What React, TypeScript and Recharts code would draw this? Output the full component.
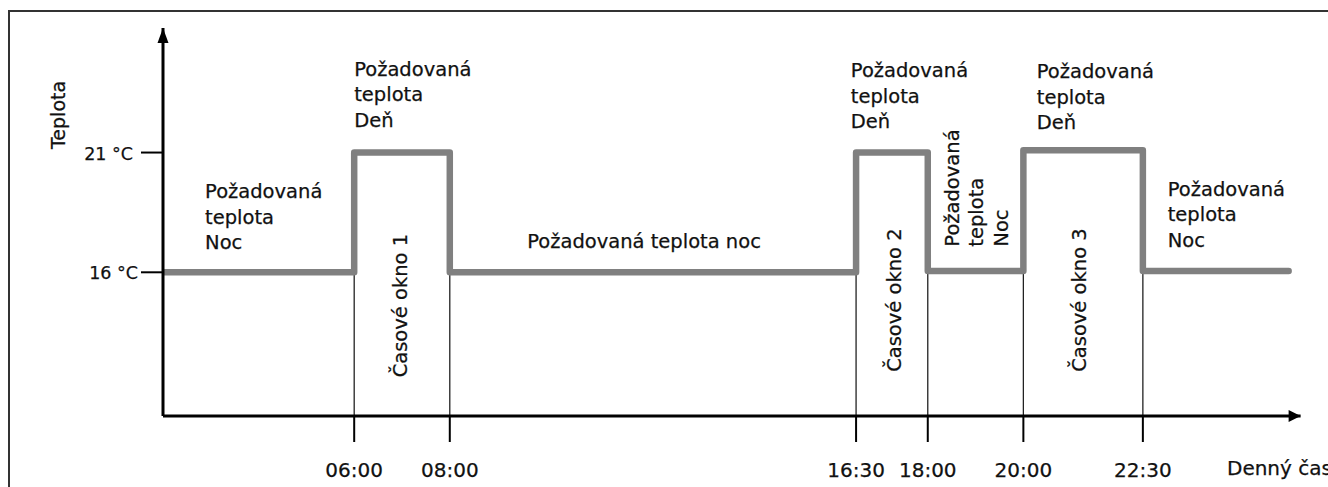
import React from 'react';
import { LineChart, Line, XAxis, YAxis, ReferenceLine, ReferenceDot } from 'recharts';

// switching program: time of day (h) -> set temperature (°C)
const times = [2, 6, 8, 16.5, 18, 20, 22.5, 25.55];
const temps = [16, 21, 16, 21, 16.05, 21.1, 16.05, 16.05];

const switchTimes = [6, 8, 16.5, 18, 20, 22.5];
const timeLabels = ['06:00', '08:00', '16:30', '18:00', '20:00', '22:30'];

const tempTicks = [16, 21];
const tempLabels = ['16 °C', '21 °C'];

type Note = {
  lines: string[];
  t: number;
  v: number;
  rotated?: boolean;
  anchor?: 'start' | 'middle';
  size?: number;
};

const notes: Note[] = [
  { lines: ['Požadovaná', 'teplota', 'Noc'], t: 2.88, v: 19.1 },
  { lines: ['Požadovaná', 'teplota', 'Deň'], t: 6.0, v: 24.2 },
  { lines: ['Požadovaná teplota noc'], t: 9.62, v: 17.0 },
  { lines: ['Požadovaná', 'teplota', 'Deň'], t: 16.39, v: 24.15 },
  { lines: ['Požadovaná', 'teplota', 'Deň'], t: 20.28, v: 24.11 },
  { lines: ['Požadovaná', 'teplota', 'Noc'], t: 23.02, v: 19.19 },
  { lines: ['Požadovaná', 'teplota', 'Noc'], t: 18.65, v: 17.07, rotated: true },
  { lines: ['Časové okno 1'], t: 7.1, v: 14.61, rotated: true, anchor: 'middle' },
  { lines: ['Časové okno 2'], t: 17.44, v: 14.84, rotated: true, anchor: 'middle' },
  { lines: ['Časové okno 3'], t: 21.31, v: 14.84, rotated: true, anchor: 'middle' },
  { lines: ['Teplota'], t: -0.04, v: 22.57, rotated: true, anchor: 'middle', size: 19 },
  { lines: ['Denný čas'], t: 24.26, v: 7.54, size: 20 },
];

const data = times.map((t, i) => ({ t, v: temps[i] }));

const FONT = "'DejaVu Sans', sans-serif";
const LINE_COLOR = '#808080';

const NoteText = ({ cx, cy, note }: any) => {
  const lh = note.rotated ? 24.5 : 25.5;
  return (
    <text
      x={cx}
      y={cy}
      fontFamily={FONT}
      fontSize={note.size || 19.5}
      fill="#111"
      stroke="#111"
      strokeWidth={0.25}
      textAnchor={note.anchor || 'start'}
      transform={note.rotated ? `rotate(-90 ${cx} ${cy})` : undefined}
    >
      {note.lines.map((l: string, i: number) => (
        <tspan key={i} x={cx} dy={i === 0 ? 0 : lh}>
          {l}
        </tspan>
      ))}
    </text>
  );
};

const XTick = ({ x, y, payload }: any) => {
  const idx = switchTimes.indexOf(payload.value);
  return (
    <text
      x={x}
      y={y}
      dy="0.71em"
      textAnchor="middle"
      fontFamily={FONT}
      fontSize={20}
      fill="#111"
      stroke="#111"
      strokeWidth={0.25}
    >
      {timeLabels[idx]}
    </text>
  );
};

const yLabelShift: Record<number, number> = { 16: 5, 21: 0 };

const YTick = ({ x, y, payload }: any) => {
  const idx = tempTicks.indexOf(payload.value);
  return (
    <text
      x={x + (yLabelShift[payload.value] || 0)}
      y={y}
      dy="0.4em"
      textAnchor="end"
      fontFamily={FONT}
      fontSize={17.5}
      fill="#111"
      stroke="#111"
      strokeWidth={0.25}
    >
      {tempLabels[idx]}
    </text>
  );
};

const UpArrow = ({ cx, cy }: any) => (
  <polygon points={`${cx},${cy} ${cx - 5.5},${cy + 15} ${cx + 5.5},${cy + 15}`} fill="#000" />
);

const RightArrow = ({ cx, cy }: any) => (
  <polygon points={`${cx},${cy} ${cx - 12},${cy - 6} ${cx - 12},${cy + 6}`} fill="#000" />
);

export default function App() {
  return (
    <div style={{ position: 'absolute', left: 0, top: 0, width: 1328, height: 487, overflow: 'hidden', background: '#fff' }}>
      <div
        style={{
          position: 'absolute',
          left: 8,
          top: 10,
          width: 1400,
          height: 600,
          borderLeft: '2px solid #333',
          borderTop: '2px solid #333',
        }}
      />
      <div style={{ position: 'absolute', left: 0, top: 0 }}>
        <LineChart width={1328} height={487} data={data} margin={{ top: 28, right: 27.4, bottom: 70, left: 162 }}>
          <XAxis
            dataKey="t"
            type="number"
            domain={[2, 25.8]}
            ticks={switchTimes}
            height={1}
            axisLine={{ stroke: '#000', strokeWidth: 3 }}
            tickLine={{ stroke: '#000', strokeWidth: 2 }}
            tickSize={26}
            tickMargin={21}
            tick={<XTick />}
            interval={0}
            allowDataOverflow
          />
          <YAxis
            type="number"
            domain={[10, 26.2]}
            ticks={tempTicks}
            width={1}
            axisLine={{ stroke: '#000', strokeWidth: 3 }}
            tickLine={{ stroke: '#000', strokeWidth: 2 }}
            tickSize={22}
            tickMargin={8}
            tick={<YTick />}
            interval={0}
            allowDataOverflow
          />
          {switchTimes.map((t) => (
            <ReferenceLine
              key={t}
              segment={[
                { x: t, y: 10 },
                { x: t, y: 16 },
              ]}
              stroke="#222"
              strokeWidth={1.3}
            />
          ))}
          <Line
            type="stepAfter"
            dataKey="v"
            stroke={LINE_COLOR}
            strokeWidth={6.5}
            strokeLinejoin="round"
            strokeLinecap="round"
            dot={false}
            activeDot={false}
            isAnimationActive={false}
          />
          <ReferenceDot x={2} y={26.2} r={1} ifOverflow="visible" shape={(p: any) => <UpArrow {...p} />} />
          <ReferenceDot x={25.8} y={10} r={1} ifOverflow="visible" shape={(p: any) => <RightArrow {...p} />} />
          {notes.map((n, i) => (
            <ReferenceDot
              key={i}
              x={n.t}
              y={n.v}
              r={1}
              ifOverflow="visible"
              shape={(p: any) => <NoteText {...p} note={n} />}
            />
          ))}
        </LineChart>
      </div>
    </div>
  );
}
